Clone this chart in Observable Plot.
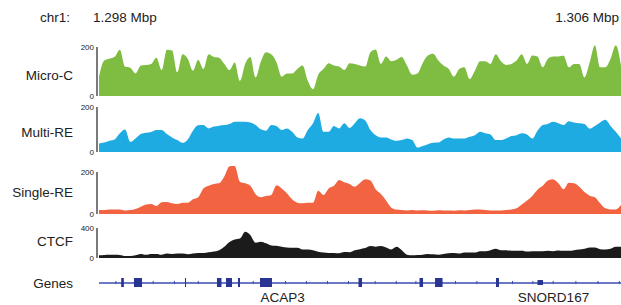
<!DOCTYPE html>
<html>
<head>
<meta charset="utf-8">
<script src="https://cdn.jsdelivr.net/npm/d3@7"></script>
<script src="https://cdn.jsdelivr.net/npm/@observablehq/plot@0.6"></script>
<style>
  html, body { margin: 0; padding: 0; background: #fff; }
  #chart { position: relative; width: 621px; height: 305px; overflow: hidden;
           font-family: "Liberation Sans", Arial, sans-serif; color: #222; }
  .lbl { position: absolute; font-size: 13.5px; line-height: 16px; white-space: nowrap; }
  .r { text-align: right; }
  .trk { position: absolute; left: 0; }
</style>
</head>
<body>
<div id="chart"></div>
<script>
const chrom = "chr1:";
const startLabel = "1.298 Mbp";
const endLabel = "1.306 Mbp";
const regionStart = 1298000;
const regionEnd = 1306000;
const binSize = 80;

const trackNames = ["Micro-C", "Multi-RE", "Single-RE", "CTCF"];
const trackMax = [200, 200, 200, 400];
const trackColors = ["#7fbd42", "#1eabe2", "#f26441", "#1b1b1b"];

const microC = [80,145,152,160,189,120,115,92,124,127,
  131,156,106,189,186,97,170,152,103,148,
  110,170,159,156,131,106,137,62,131,159,
  76,141,179,170,138,79,92,92,110,124,
  62,28,87,110,134,124,120,106,134,131,
  124,120,179,190,131,161,142,148,159,124,
  87,92,134,165,172,145,124,110,79,110,
  117,69,103,142,142,131,170,142,127,131,
  145,170,131,165,161,117,152,161,161,164,
  117,131,131,76,138,207,117,117,152,207,
  124];

const multiRE = [38,42,50,56,83,100,45,60,80,86,
  89,98,98,80,65,53,41,56,95,119,
  120,105,113,117,120,125,135,134,134,131,
  120,101,95,120,116,98,105,90,65,60,
  98,128,173,90,90,116,105,128,107,128,
  150,140,98,75,65,65,56,50,53,60,
  53,20,27,35,41,42,56,65,60,60,
  60,68,75,90,83,78,53,53,60,71,
  75,83,78,60,95,120,125,134,128,120,
  137,131,128,125,104,116,131,143,116,90,
  60];

const singleRE = [19,19,22,22,21,17,19,24,35,45,
  48,38,56,57,51,48,54,54,70,80,
  122,135,143,146,178,227,229,154,146,134,
  94,80,86,91,137,122,99,70,54,51,
  54,54,111,91,122,134,162,151,143,130,
  148,165,159,118,95,64,30,21,19,17,
  19,17,18,17,16,18,17,17,16,18,
  17,19,22,21,19,17,17,17,19,22,
  27,45,64,86,116,134,159,165,146,118,
  149,146,130,105,87,80,51,27,22,22,
  43];

const ctcf = [36,41,45,45,41,27,27,36,55,45,
  55,55,45,59,55,59,59,50,59,68,
  68,77,86,105,150,214,246,259,350,305,
  205,218,196,168,164,150,141,136,136,114,
  114,105,82,73,68,68,64,80,77,105,
  118,132,159,150,159,141,114,150,105,45,
  36,41,45,55,50,45,55,64,68,59,
  73,73,73,91,91,105,123,105,105,96,
  96,96,86,91,91,91,96,91,100,96,
  96,105,114,123,141,141,118,114,123,150,
  150];

// genes track
const exonStart = [1298340,1298536,1299318,1299808,1299946,1300130,1300467,1301977,1302912,1303150,1304084,1304720];
const exonEnd   = [1298381,1298659,1299334,1299877,1300038,1300161,1300651,1302031,1302966,1303265,1304130,1304805];
const exonHalf  = [1,1,1,1,1,1,1,1,1,1,1,0.55];
const strandMarks = [1298251,1298823,1299149,1299514,1300356,1300851,1301172,1301494,1301816,1302225,1302549,1302849,1303456,1303784,1304330,1304642,1304953,1305301,1305640,1305966];
const geneNames = ["ACAP3", "SNORD167"];
const geneLabelPos = [1300805, 1304958];

const series = [microC, multiRE, singleRE, ctcf];

const chart = document.getElementById("chart");
function addLabel(text, style, cls) {
  const d = document.createElement("div");
  d.className = "lbl " + (cls || "");
  d.textContent = text;
  Object.assign(d.style, style);
  chart.appendChild(d);
}

addLabel(chrom, {left: "40px", top: "10px"});
addLabel(startLabel, {left: "93px", top: "10px"});
addLabel(endLabel, {right: "2px", top: "10px"}, "r");

const layout = [
  {top: 40, h: 60, y0: 56, y1: 7, labelTop: 68},
  {top: 100, h: 55, y0: 52, y1: 7, labelTop: 125},
  {top: 165, h: 52, y0: 49, y1: 7, labelTop: 185},
  {top: 222, h: 40, y0: 36, y1: 6, labelTop: 234}
];

series.forEach((vals, k) => {
  const data = vals.map((v, i) => ({pos: regionStart + i * binSize, v}));
  const L = layout[k];
  const p = Plot.plot({
    width: 621, height: L.h,
    marginLeft: 99, marginRight: 0, marginTop: 0, marginBottom: 0,
    x: {domain: [regionStart, regionEnd], axis: null},
    y: {domain: [0, trackMax[k]], range: [L.y0, L.y1], axis: null},
    style: {fontFamily: "Liberation Sans, Arial, sans-serif", overflow: "visible"},
    marks: [
      Plot.areaY(data, {x: "pos", y: "v", fill: trackColors[k], curve: "monotone-x"}),
      Plot.ruleX([regionStart], {y1: 0, y2: trackMax[k], dx: -2.5, stroke: "#333", strokeWidth: 1.3}),
      Plot.axisY({ticks: [0, trackMax[k]], tickSize: 0, tickPadding: 5.5, fontSize: 8, label: null, tickFormat: d => String(d), fill: "#222"})
    ]
  });
  p.classList.add("trk");
  p.style.top = L.top + "px";
  chart.appendChild(p);
  addLabel(trackNames[k], {right: (621 - 73) + "px", top: L.labelTop + "px"}, "r");
});

// genes
const exons = exonStart.map((s, i) => ({s, e: exonEnd[i], h: exonHalf[i]}));
const labels = geneNames.map((n, i) => ({n, pos: geneLabelPos[i]}));
const g = Plot.plot({
  width: 621, height: 37,
  marginLeft: 99, marginRight: 0, marginTop: 0, marginBottom: 0,
  x: {domain: [regionStart, regionEnd], axis: null},
  y: {domain: [-1, 1], range: [19, 10], axis: null},
  style: {fontFamily: "Liberation Sans, Arial, sans-serif", overflow: "visible"},
  marks: [
    Plot.ruleY([0], {x1: regionStart, x2: regionEnd, stroke: "#3a4db0", strokeWidth: 1.5}),
    Plot.ruleX(strandMarks, {x: d => d, y1: -0.35, y2: 0.35, stroke: "#3a4db0", strokeWidth: 1}),
    Plot.rectY(exons, {x1: "s", x2: "e", y1: d => -d.h, y2: d => d.h, fill: "#2a3593"}),
    Plot.text(labels, {x: "pos", y: -1, text: "n", dy: 10, fontSize: 13.5, fill: "#222", lineAnchor: "middle"})
  ]
});
g.classList.add("trk");
g.style.top = "268px";
chart.appendChild(g);
addLabel("Genes", {right: (621 - 73) + "px", top: "276px"}, "r");
</script>
</body>
</html>
